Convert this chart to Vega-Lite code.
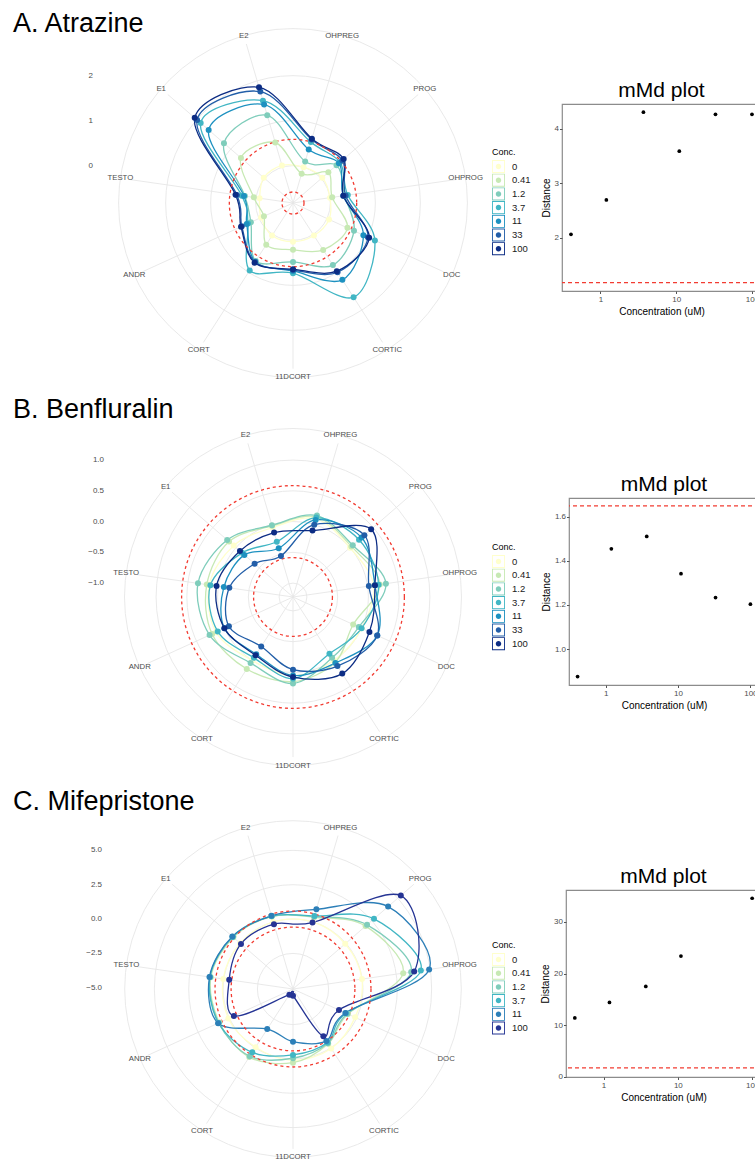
{
"$schema": "https://vega.github.io/schema/vega-lite/v6.json",
"background": "white",
"padding": {"left": 13, "top": 9, "right": 0, "bottom": 0},
"config": {"font": "Liberation Sans", "view": {"stroke": null}, "text": {"font": "Liberation Sans"}, "title": {"font": "Liberation Sans"}, "axis": {"labelFont": "Liberation Sans", "titleFont": "Liberation Sans"}, "legend": {"labelFont": "Liberation Sans", "titleFont": "Liberation Sans"}},
"datasets": {
"hormones": [{"hormone":"OHPREG"},{"hormone":"PROG"},{"hormone":"OHPROG"},{"hormone":"DOC"},{"hormone":"CORTIC"},{"hormone":"11DCORT"},{"hormone":"CORT"},{"hormone":"ANDR"},{"hormone":"TESTO"},{"hormone":"E1"},{"hormone":"E2"}],
"redCircles": [{"value": -0.585}, {"value": 0.585}],
"gridA": [{"value": 0}, {"value": 1}, {"value": 2}, {"value": 3.046}],
"gridB": [{"value": -1}, {"value": -0.5}, {"value": 0}, {"value": 0.5}, {"value": 1}, {"value": 1.514}],
"gridC": [{"value": -2.5}, {"value": 0}, {"value": 2.5}, {"value": 5}, {"value": 7.159}],
"rlabA": [{"value": 0}, {"value": 1}, {"value": 2}],
"rlabB": [{"value": -1}, {"value": -0.5}, {"value": 0}, {"value": 0.5}, {"value": 1}],
"rlabC": [{"value": -5}, {"value": -2.5}, {"value": 0}, {"value": 2.5}, {"value": 5}],
"radA": [
{"conc":"0","hormone":"OHPREG","value":0.0},{"conc":"0","hormone":"PROG","value":0.03},{"conc":"0","hormone":"OHPROG","value":0.0},{"conc":"0","hormone":"DOC","value":0.05},{"conc":"0","hormone":"CORTIC","value":0.03},{"conc":"0","hormone":"11DCORT","value":0.03},{"conc":"0","hormone":"CORT","value":0.03},{"conc":"0","hormone":"ANDR","value":-0.05},{"conc":"0","hormone":"TESTO","value":-0.08},{"conc":"0","hormone":"E1","value":0.03},{"conc":"0","hormone":"E2","value":0.04},
{"conc":"0.41","hormone":"OHPREG","value":-0.15},{"conc":"0.41","hormone":"PROG","value":0.21},{"conc":"0.41","hormone":"OHPROG","value":0.05},{"conc":"0.41","hormone":"DOC","value":0.5},{"conc":"0.41","hormone":"CORTIC","value":0.41},{"conc":"0.41","hormone":"11DCORT","value":0.21},{"conc":"0.41","hormone":"CORT","value":0.27},{"conc":"0.41","hormone":"ANDR","value":-0.12},{"conc":"0.41","hormone":"TESTO","value":0.05},{"conc":"0.41","hormone":"E1","value":0.7},{"conc":"0.41","hormone":"E2","value":0.57},
{"conc":"1.2","hormone":"OHPREG","value":0.13},{"conc":"1.2","hormone":"PROG","value":0.45},{"conc":"1.2","hormone":"OHPROG","value":0.33},{"conc":"1.2","hormone":"DOC","value":0.66},{"conc":"1.2","hormone":"CORTIC","value":0.81},{"conc":"1.2","hormone":"11DCORT","value":0.48},{"conc":"1.2","hormone":"CORT","value":0.7},{"conc":"1.2","hormone":"ANDR","value":0.2},{"conc":"1.2","hormone":"TESTO","value":0.25},{"conc":"1.2","hormone":"E1","value":1.2},{"conc":"1.2","hormone":"E2","value":1.2},
{"conc":"3.7","hormone":"OHPREG","value":0.58},{"conc":"3.7","hormone":"PROG","value":0.55},{"conc":"3.7","hormone":"OHPROG","value":0.4},{"conc":"3.7","hormone":"DOC","value":1.17},{"conc":"3.7","hormone":"CORTIC","value":1.66},{"conc":"3.7","hormone":"11DCORT","value":0.73},{"conc":"3.7","hormone":"CORT","value":0.95},{"conc":"3.7","hormone":"ANDR","value":0.27},{"conc":"3.7","hormone":"TESTO","value":0.32},{"conc":"3.7","hormone":"E1","value":1.885},{"conc":"3.7","hormone":"E2","value":1.54},
{"conc":"11","hormone":"OHPREG","value":0.41},{"conc":"11","hormone":"PROG","value":0.52},{"conc":"11","hormone":"OHPROG","value":0.3},{"conc":"11","hormone":"DOC","value":0.89},{"conc":"11","hormone":"CORTIC","value":1.2},{"conc":"11","hormone":"11DCORT","value":0.68},{"conc":"11","hormone":"CORT","value":0.72},{"conc":"11","hormone":"ANDR","value":0.3},{"conc":"11","hormone":"TESTO","value":0.27},{"conc":"11","hormone":"E1","value":1.65},{"conc":"11","hormone":"E2","value":1.45},
{"conc":"33","hormone":"OHPREG","value":0.64},{"conc":"33","hormone":"PROG","value":0.62},{"conc":"33","hormone":"OHPROG","value":0.35},{"conc":"33","hormone":"DOC","value":1.0},{"conc":"33","hormone":"CORTIC","value":1.0},{"conc":"33","hormone":"11DCORT","value":0.66},{"conc":"33","hormone":"CORT","value":0.73},{"conc":"33","hormone":"ANDR","value":0.42},{"conc":"33","hormone":"TESTO","value":0.43},{"conc":"33","hormone":"E1","value":1.99},{"conc":"33","hormone":"E2","value":1.75},
{"conc":"100","hormone":"OHPREG","value":0.66},{"conc":"100","hormone":"PROG","value":0.66},{"conc":"100","hormone":"OHPROG","value":0.3},{"conc":"100","hormone":"DOC","value":1.03},{"conc":"100","hormone":"CORTIC","value":0.97},{"conc":"100","hormone":"11DCORT","value":0.64},{"conc":"100","hormone":"CORT","value":0.75},{"conc":"100","hormone":"ANDR","value":0.44},{"conc":"100","hormone":"TESTO","value":0.46},{"conc":"100","hormone":"E1","value":2.06},{"conc":"100","hormone":"E2","value":1.85}
],
"radB": [
{"conc":"0","hormone":"OHPREG","value":0.1},{"conc":"0","hormone":"PROG","value":0.0},{"conc":"0","hormone":"OHPROG","value":0.1},{"conc":"0","hormone":"DOC","value":0.0},{"conc":"0","hormone":"CORTIC","value":0.0},{"conc":"0","hormone":"11DCORT","value":0.05},{"conc":"0","hormone":"CORT","value":0.0},{"conc":"0","hormone":"ANDR","value":0.15},{"conc":"0","hormone":"TESTO","value":0.15},{"conc":"0","hormone":"E1","value":0.05},{"conc":"0","hormone":"E2","value":-0.05},
{"conc":"0.41","hormone":"OHPREG","value":0.13},{"conc":"0.41","hormone":"PROG","value":0.03},{"conc":"0.41","hormone":"OHPROG","value":0.2},{"conc":"0.41","hormone":"DOC","value":-0.15},{"conc":"0.41","hormone":"CORTIC","value":0.04},{"conc":"0.41","hormone":"11DCORT","value":0.15},{"conc":"0.41","hormone":"CORT","value":0.165},{"conc":"0.41","hormone":"ANDR","value":0.22},{"conc":"0.41","hormone":"TESTO","value":0.19},{"conc":"0.41","hormone":"E1","value":0.15},{"conc":"0.41","hormone":"E2","value":-0.02},
{"conc":"1.2","hormone":"OHPREG","value":0.155},{"conc":"1.2","hormone":"PROG","value":0.06},{"conc":"1.2","hormone":"OHPROG","value":0.3},{"conc":"1.2","hormone":"DOC","value":-0.05},{"conc":"1.2","hormone":"CORTIC","value":-0.05},{"conc":"1.2","hormone":"11DCORT","value":0.18},{"conc":"1.2","hormone":"CORT","value":0.05},{"conc":"1.2","hormone":"ANDR","value":0.265},{"conc":"1.2","hormone":"TESTO","value":0.335},{"conc":"1.2","hormone":"E1","value":0.19},{"conc":"1.2","hormone":"E2","value":-0.01},
{"conc":"3.7","hormone":"OHPREG","value":0.12},{"conc":"3.7","hormone":"PROG","value":0.195},{"conc":"3.7","hormone":"OHPROG","value":0.18},{"conc":"3.7","hormone":"DOC","value":0.0},{"conc":"3.7","hormone":"CORTIC","value":-0.13},{"conc":"3.7","hormone":"11DCORT","value":0.1},{"conc":"3.7","hormone":"CORT","value":-0.05},{"conc":"3.7","hormone":"ANDR","value":0.12},{"conc":"3.7","hormone":"TESTO","value":0.13},{"conc":"3.7","hormone":"E1","value":-0.13},{"conc":"3.7","hormone":"E2","value":-0.29},
{"conc":"11","hormone":"OHPREG","value":0.08},{"conc":"11","hormone":"PROG","value":0.25},{"conc":"11","hormone":"OHPROG","value":0.12},{"conc":"11","hormone":"DOC","value":0.28},{"conc":"11","hormone":"CORTIC","value":0.05},{"conc":"11","hormone":"11DCORT","value":0.05},{"conc":"11","hormone":"CORT","value":-0.12},{"conc":"11","hormone":"ANDR","value":0.0},{"conc":"11","hormone":"TESTO","value":-0.09},{"conc":"11","hormone":"E1","value":-0.18},{"conc":"11","hormone":"E2","value":-0.4},
{"conc":"33","hormone":"OHPREG","value":0.0},{"conc":"33","hormone":"PROG","value":0.31},{"conc":"33","hormone":"OHPROG","value":0.02},{"conc":"33","hormone":"DOC","value":0.28},{"conc":"33","hormone":"CORTIC","value":0.11},{"conc":"33","hormone":"11DCORT","value":-0.045},{"conc":"33","hormone":"CORT","value":-0.27},{"conc":"33","hormone":"ANDR","value":-0.08},{"conc":"33","hormone":"TESTO","value":-0.18},{"conc":"33","hormone":"E1","value":-0.4},{"conc":"33","hormone":"E2","value":-0.53},
{"conc":"100","hormone":"OHPREG","value":-0.1},{"conc":"100","hormone":"PROG","value":0.455},{"conc":"100","hormone":"OHPROG","value":0.12},{"conc":"100","hormone":"DOC","value":0.14},{"conc":"100","hormone":"CORTIC","value":0.255},{"conc":"100","hormone":"11DCORT","value":0.075},{"conc":"100","hormone":"CORT","value":-0.1},{"conc":"100","hormone":"ANDR","value":0.0},{"conc":"100","hormone":"TESTO","value":0.03},{"conc":"100","hormone":"E1","value":-0.085},{"conc":"100","hormone":"E2","value":-0.135}
],
"radC": [
{"conc":"0","hormone":"OHPREG","value":0.0},{"conc":"0","hormone":"PROG","value":-0.06},{"conc":"0","hormone":"OHPROG","value":-0.02},{"conc":"0","hormone":"DOC","value":-0.12},{"conc":"0","hormone":"CORTIC","value":0.05},{"conc":"0","hormone":"11DCORT","value":0.1},{"conc":"0","hormone":"CORT","value":-0.05},{"conc":"0","hormone":"ANDR","value":0.08},{"conc":"0","hormone":"TESTO","value":0.04},{"conc":"0","hormone":"E1","value":0.0},{"conc":"0","hormone":"E2","value":0.0},
{"conc":"0.41","hormone":"OHPREG","value":0.35},{"conc":"0.41","hormone":"PROG","value":1.9},{"conc":"0.41","hormone":"OHPROG","value":3.01},{"conc":"0.41","hormone":"DOC","value":-0.7},{"conc":"0.41","hormone":"CORTIC","value":-0.35},{"conc":"0.41","hormone":"11DCORT","value":0.27},{"conc":"0.41","hormone":"CORT","value":0.8},{"conc":"0.41","hormone":"ANDR","value":0.8},{"conc":"0.41","hormone":"TESTO","value":0.95},{"conc":"0.41","hormone":"E1","value":0.65},{"conc":"0.41","hormone":"E2","value":0.4},
{"conc":"1.2","hormone":"OHPREG","value":0.4},{"conc":"1.2","hormone":"PROG","value":2.04},{"conc":"1.2","hormone":"OHPROG","value":3.6},{"conc":"1.2","hormone":"DOC","value":-0.75},{"conc":"1.2","hormone":"CORTIC","value":-0.4},{"conc":"1.2","hormone":"11DCORT","value":-0.05},{"conc":"1.2","hormone":"CORT","value":0.73},{"conc":"1.2","hormone":"ANDR","value":0.85},{"conc":"1.2","hormone":"TESTO","value":1.0},{"conc":"1.2","hormone":"E1","value":0.7},{"conc":"1.2","hormone":"E2","value":0.42},
{"conc":"3.7","hormone":"OHPREG","value":0.45},{"conc":"3.7","hormone":"PROG","value":2.71},{"conc":"3.7","hormone":"OHPROG","value":4.31},{"conc":"3.7","hormone":"DOC","value":-0.85},{"conc":"3.7","hormone":"CORTIC","value":-0.46},{"conc":"3.7","hormone":"11DCORT","value":-0.29},{"conc":"3.7","hormone":"CORT","value":0.39},{"conc":"3.7","hormone":"ANDR","value":0.87},{"conc":"3.7","hormone":"TESTO","value":1.02},{"conc":"3.7","hormone":"E1","value":0.73},{"conc":"3.7","hormone":"E2","value":0.44},
{"conc":"11","hormone":"OHPREG","value":0.95},{"conc":"11","hormone":"PROG","value":4.07},{"conc":"11","hormone":"OHPROG","value":4.92},{"conc":"11","hormone":"DOC","value":-0.9},{"conc":"11","hormone":"CORTIC","value":-0.6},{"conc":"11","hormone":"11DCORT","value":-1.26},{"conc":"11","hormone":"CORT","value":-1.62},{"conc":"11","hormone":"ANDR","value":0.9},{"conc":"11","hormone":"TESTO","value":1.05},{"conc":"11","hormone":"E1","value":0.75},{"conc":"11","hormone":"E2","value":0.46},
{"conc":"100","hormone":"OHPREG","value":-0.05},{"conc":"100","hormone":"PROG","value":5.29},{"conc":"100","hormone":"OHPROG","value":3.82},{"conc":"100","hormone":"DOC","value":-1.41},{"conc":"100","hormone":"CORTIC","value":-1.0},{"conc":"100","hormone":"11DCORT","value":-4.6},{"conc":"100","hormone":"CORT","value":-4.6},{"conc":"100","hormone":"ANDR","value":-0.36},{"conc":"100","hormone":"TESTO","value":-0.4},{"conc":"100","hormone":"E1","value":-0.08},{"conc":"100","hormone":"E2","value":-0.17}
],
"mmdA": [{"conc":0.41,"distance":2.06},{"conc":1.2,"distance":2.69},{"conc":3.7,"distance":4.3},{"conc":11,"distance":3.585},{"conc":33,"distance":4.26},{"conc":100,"distance":4.26}],
"mmdB": [{"conc":0.41,"distance":0.875},{"conc":1.2,"distance":1.454},{"conc":3.7,"distance":1.51},{"conc":11,"distance":1.341},{"conc":33,"distance":1.233},{"conc":100,"distance":1.203}],
"mmdC": [{"conc":0.41,"distance":11.4},{"conc":1.2,"distance":14.4},{"conc":3.7,"distance":17.5},{"conc":11,"distance":23.4},{"conc":100,"distance":34.6}],
"thrA": [{"threshold": 1.174}],
"thrB": [{"threshold": 1.648}],
"thrC": [{"threshold": 1.73}]
},
"spacing": 2,
"resolve": {"scale": {"color": "independent", "stroke": "independent", "x": "independent", "y": "independent", "size": "independent"}, "legend": {"color": "independent"}},
"vconcat": [
{
"spacing": 9,
"resolve": {"scale": {"color": "independent", "stroke": "independent", "x": "independent", "y": "independent", "size": "independent"}, "legend": {"color": "independent"}},
"hconcat": [
{
"width": 390, "height": 289,
"view": {"stroke": null},
"title": {"text": "A. Atrazine", "anchor": "start", "frame": "group", "dx": -85, "offset": -32, "baseline": "alphabetic", "fontSize": 27, "fontWeight": "normal", "color": "#000000"},
"layer": [
{"data": {"name": "gridA"}, "transform": [{"calculate": "datum.value + 0.83", "as": "rr"}, {"calculate": "0", "as": "cx"}],
 "mark": {"type": "point", "shape": "circle", "filled": false, "color": "#e6e6e6", "strokeWidth": 0.9, "opacity": 1},
 "encoding": {"x": {"field": "cx", "type": "quantitative", "scale": {"domain": [-4.3333, 4.3333], "nice": false, "zero": false}, "axis": null},
  "y": {"field": "cx", "type": "quantitative", "scale": {"domain": [-4.2222, 2.2], "nice": false, "zero": false}, "axis": null},
  "size": {"field": "rr", "type": "quantitative", "scale": {"type": "pow", "exponent": 2, "domain": [0, 4.3333], "range": [0, 152100], "nice": false, "zero": true}, "legend": null}}},
{"data": {"name": "hormones"}, "transform": [{"calculate": "indexof(['OHPREG','PROG','OHPROG','DOC','CORTIC','11DCORT','CORT','ANDR','TESTO','E1','E2'], datum.hormone)", "as": "k"}, {"calculate": "(datum.k + 0.5) * 2 * PI / 11", "as": "ang"}, {"calculate": "3.876 * 0.95", "as": "rr"}, {"calculate": "datum.rr * sin(datum.ang)", "as": "px"}, {"calculate": "datum.rr * cos(datum.ang)", "as": "py"}, {"calculate": "0", "as": "cx"}],
 "mark": {"type": "rule", "color": "#e6e6e6", "strokeWidth": 0.9},
 "encoding": {"x": {"field": "cx", "type": "quantitative", "scale": {"domain": [-4.3333, 4.3333], "nice": false, "zero": false}, "axis": null},
  "y": {"field": "cx", "type": "quantitative", "scale": {"domain": [-4.2222, 2.2], "nice": false, "zero": false}, "axis": null},
  "x2": {"field": "px"}, "y2": {"field": "py"}}},
{"data": {"name": "hormones"}, "transform": [{"calculate": "indexof(['OHPREG','PROG','OHPROG','DOC','CORTIC','11DCORT','CORT','ANDR','TESTO','E1','E2'], datum.hormone)", "as": "k"}, {"calculate": "(datum.k + 0.5) * 2 * PI / 11", "as": "ang"}, {"calculate": "3.876", "as": "rr"}, {"calculate": "datum.rr * sin(datum.ang)", "as": "px"}, {"calculate": "datum.rr * cos(datum.ang)", "as": "py"}],
 "mark": {"type": "text", "fontSize": 7.8, "color": "#4d4d4d", "align": "center", "baseline": "middle"},
 "encoding": {"x": {"field": "px", "type": "quantitative", "scale": {"domain": [-4.3333, 4.3333], "nice": false, "zero": false}, "axis": null},
  "y": {"field": "py", "type": "quantitative", "scale": {"domain": [-4.2222, 2.2], "nice": false, "zero": false}, "axis": null},
  "text": {"field": "hormone", "type": "nominal"}}},
{"data": {"name": "rlabA"}, "transform": [{"calculate": "datum.value + 0.83", "as": "rr"}, {"calculate": "-4.3333", "as": "lx"}],
 "mark": {"type": "text", "fontSize": 8, "color": "#4d4d4d", "align": "right", "baseline": "middle", "dx": -5},
 "encoding": {"x": {"field": "lx", "type": "quantitative", "scale": {"domain": [-4.3333, 4.3333], "nice": false, "zero": false}, "axis": null},
  "y": {"field": "rr", "type": "quantitative", "scale": {"domain": [-4.2222, 2.2], "nice": false, "zero": false}, "axis": null},
  "text": {"field": "value", "type": "quantitative", "format": ".0f"}}},
{"data": {"name": "radA"}, "transform": [{"calculate": "indexof(['OHPREG','PROG','OHPROG','DOC','CORTIC','11DCORT','CORT','ANDR','TESTO','E1','E2'], datum.hormone)", "as": "k"}, {"calculate": "(datum.k + 0.5) * 2 * PI / 11", "as": "ang"}, {"calculate": "datum.value + 0.83", "as": "rr"}, {"calculate": "datum.rr * sin(datum.ang)", "as": "px"}, {"calculate": "datum.rr * cos(datum.ang)", "as": "py"}],
 "mark": {"type": "line", "interpolate": "cardinal-closed", "strokeWidth": 1.3},
 "encoding": {"x": {"field": "px", "type": "quantitative", "scale": {"domain": [-4.3333, 4.3333], "nice": false, "zero": false}, "axis": null},
  "y": {"field": "py", "type": "quantitative", "scale": {"domain": [-4.2222, 2.2], "nice": false, "zero": false}, "axis": null},
  "stroke": {"field": "conc", "type": "nominal", "sort": null, "scale": {"range": ["#ffffcc","#c7e9b4","#7fcdbb","#41b6c4","#1d91c0","#225ea8","#0c2c84"]}, "legend": null},
  "order": {"field": "k", "type": "quantitative"}}},
{"data": {"name": "redCircles"}, "transform": [{"calculate": "datum.value + 0.83", "as": "rr"}, {"calculate": "0", "as": "cx"}],
 "mark": {"type": "point", "shape": "circle", "filled": false, "color": "#f23c32", "strokeWidth": 1.3, "strokeDash": [3, 3], "opacity": 1},
 "encoding": {"x": {"field": "cx", "type": "quantitative", "scale": {"domain": [-4.3333, 4.3333], "nice": false, "zero": false}, "axis": null},
  "y": {"field": "cx", "type": "quantitative", "scale": {"domain": [-4.2222, 2.2], "nice": false, "zero": false}, "axis": null},
  "size": {"field": "rr", "type": "quantitative", "scale": {"type": "pow", "exponent": 2, "domain": [0, 4.3333], "range": [0, 152100], "nice": false, "zero": true}, "legend": null}}},
{"data": {"name": "radA"}, "transform": [{"calculate": "indexof(['OHPREG','PROG','OHPROG','DOC','CORTIC','11DCORT','CORT','ANDR','TESTO','E1','E2'], datum.hormone)", "as": "k"}, {"calculate": "(datum.k + 0.5) * 2 * PI / 11", "as": "ang"}, {"calculate": "datum.value + 0.83", "as": "rr"}, {"calculate": "datum.rr * sin(datum.ang)", "as": "px"}, {"calculate": "datum.rr * cos(datum.ang)", "as": "py"}],
 "mark": {"type": "point", "filled": true, "size": 36, "opacity": 1},
 "encoding": {"x": {"field": "px", "type": "quantitative", "scale": {"domain": [-4.3333, 4.3333], "nice": false, "zero": false}, "axis": null},
  "y": {"field": "py", "type": "quantitative", "scale": {"domain": [-4.2222, 2.2], "nice": false, "zero": false}, "axis": null},
  "color": {"field": "conc", "type": "nominal", "scale": {"domain": ["0","0.41","1.2","3.7","11","33","100"], "range": ["#ffffcc","#c7e9b4","#7fcdbb","#41b6c4","#1d91c0","#225ea8","#0c2c84"]},
   "legend": {"title": "Conc.", "orient": "none", "legendX": 394, "legendY": 44, "padding": 0, "symbolType": "M-1,-1H1V1H-1Z M-0.86,-0.86V0.86H0.86V-0.86Z M0,-0.42A0.42,0.42 0 1,1 0,0.42A0.42,0.42 0 1,1 0,-0.42Z", "symbolSize": 169, "symbolStrokeWidth": 0, "labelFontSize": 9.5, "labelColor": "#1a1a1a", "titleFontSize": 9, "titleFontWeight": "normal", "titleColor": "#000000", "labelOffset": 7, "rowPadding": 0.7, "titlePadding": 3}}}}
]
},
{
"width": 199, "height": 187,
"view": {"stroke": "#8c8c8c", "strokeWidth": 1.2},
"title": {"text": "mMd plot", "fontSize": 21, "fontWeight": "normal", "color": "#000000", "offset": 3, "anchor": "middle", "frame": "group"},
"layer": [
{"data": {"name": "mmdA"}, "mark": {"type": "point", "filled": true, "size": 14, "color": "#000000", "opacity": 1},
 "encoding": {"x": {"field": "conc", "type": "quantitative", "scale": {"type": "log", "domain": [0.312, 131.5], "nice": false}, "axis": {"values": [1, 10, 100], "format": "d", "title": "Concentration (uM)", "grid": false, "domain": false, "tickSize": 2.5, "tickColor": "#555555", "labelFontSize": 8, "labelColor": "#4d4d4d", "labelPadding": 1.5, "titleFontSize": 10, "titleFontWeight": "normal", "titleColor": "#000000", "titlePadding": 3}},
  "y": {"field": "distance", "type": "quantitative", "scale": {"domain": [1.02, 4.45], "nice": false, "zero": false}, "axis": {"values": [2, 3, 4], "format": "d", "title": "Distance", "grid": false, "domain": false, "tickSize": 2.5, "tickColor": "#555555", "labelFontSize": 8, "labelColor": "#4d4d4d", "labelPadding": 1, "titleFontSize": 10, "titleFontWeight": "normal", "titleColor": "#000000", "titlePadding": 3}}}},
{"data": {"name": "thrA"}, "mark": {"type": "rule", "color": "#f23c32", "strokeDash": [4, 3], "strokeWidth": 1.2},
 "encoding": {"y": {"field": "threshold", "type": "quantitative"}}}
]
}
]
},
{
"spacing": 9,
"resolve": {"scale": {"color": "independent", "stroke": "independent", "x": "independent", "y": "independent", "size": "independent"}, "legend": {"color": "independent"}},
"hconcat": [
{
"width": 390, "height": 287,
"view": {"stroke": null},
"title": {"text": "B. Benfluralin", "anchor": "start", "frame": "group", "dx": -85, "offset": -18, "baseline": "alphabetic", "fontSize": 27, "fontWeight": "normal", "color": "#000000"},
"layer": [
{"data": {"name": "gridB"}, "transform": [{"calculate": "datum.value + 1.226", "as": "rr"}, {"calculate": "0", "as": "cx"}],
 "mark": {"type": "point", "shape": "circle", "filled": false, "color": "#e6e6e6", "strokeWidth": 0.9, "opacity": 1},
 "encoding": {"x": {"field": "cx", "type": "quantitative", "scale": {"domain": [-3.1707, 3.1707], "nice": false, "zero": false}, "axis": null},
  "y": {"field": "cx", "type": "quantitative", "scale": {"domain": [-3.0569, 1.6098], "nice": false, "zero": false}, "axis": null},
  "size": {"field": "rr", "type": "quantitative", "scale": {"type": "pow", "exponent": 2, "domain": [0, 3.1707], "range": [0, 152100], "nice": false, "zero": true}, "legend": null}}},
{"data": {"name": "hormones"}, "transform": [{"calculate": "indexof(['OHPREG','PROG','OHPROG','DOC','CORTIC','11DCORT','CORT','ANDR','TESTO','E1','E2'], datum.hormone)", "as": "k"}, {"calculate": "(datum.k + 0.5) * 2 * PI / 11", "as": "ang"}, {"calculate": "2.74 * 0.95", "as": "rr"}, {"calculate": "datum.rr * sin(datum.ang)", "as": "px"}, {"calculate": "datum.rr * cos(datum.ang)", "as": "py"}, {"calculate": "0", "as": "cx"}],
 "mark": {"type": "rule", "color": "#e6e6e6", "strokeWidth": 0.9},
 "encoding": {"x": {"field": "cx", "type": "quantitative", "scale": {"domain": [-3.1707, 3.1707], "nice": false, "zero": false}, "axis": null},
  "y": {"field": "cx", "type": "quantitative", "scale": {"domain": [-3.0569, 1.6098], "nice": false, "zero": false}, "axis": null},
  "x2": {"field": "px"}, "y2": {"field": "py"}}},
{"data": {"name": "hormones"}, "transform": [{"calculate": "indexof(['OHPREG','PROG','OHPROG','DOC','CORTIC','11DCORT','CORT','ANDR','TESTO','E1','E2'], datum.hormone)", "as": "k"}, {"calculate": "(datum.k + 0.5) * 2 * PI / 11", "as": "ang"}, {"calculate": "2.74", "as": "rr"}, {"calculate": "datum.rr * sin(datum.ang)", "as": "px"}, {"calculate": "datum.rr * cos(datum.ang)", "as": "py"}],
 "mark": {"type": "text", "fontSize": 7.8, "color": "#4d4d4d", "align": "center", "baseline": "middle"},
 "encoding": {"x": {"field": "px", "type": "quantitative", "scale": {"domain": [-3.1707, 3.1707], "nice": false, "zero": false}, "axis": null},
  "y": {"field": "py", "type": "quantitative", "scale": {"domain": [-3.0569, 1.6098], "nice": false, "zero": false}, "axis": null},
  "text": {"field": "hormone", "type": "nominal"}}},
{"data": {"name": "rlabB"}, "transform": [{"calculate": "datum.value + 1.226", "as": "rr"}, {"calculate": "-3.1707", "as": "lx"}],
 "mark": {"type": "text", "fontSize": 8, "color": "#4d4d4d", "align": "right", "baseline": "middle", "dx": 6},
 "encoding": {"x": {"field": "lx", "type": "quantitative", "scale": {"domain": [-3.1707, 3.1707], "nice": false, "zero": false}, "axis": null},
  "y": {"field": "rr", "type": "quantitative", "scale": {"domain": [-3.0569, 1.6098], "nice": false, "zero": false}, "axis": null},
  "text": {"field": "value", "type": "quantitative", "format": ".1f"}}},
{"data": {"name": "radB"}, "transform": [{"calculate": "indexof(['OHPREG','PROG','OHPROG','DOC','CORTIC','11DCORT','CORT','ANDR','TESTO','E1','E2'], datum.hormone)", "as": "k"}, {"calculate": "(datum.k + 0.5) * 2 * PI / 11", "as": "ang"}, {"calculate": "datum.value + 1.226", "as": "rr"}, {"calculate": "datum.rr * sin(datum.ang)", "as": "px"}, {"calculate": "datum.rr * cos(datum.ang)", "as": "py"}],
 "mark": {"type": "line", "interpolate": "cardinal-closed", "strokeWidth": 1.3},
 "encoding": {"x": {"field": "px", "type": "quantitative", "scale": {"domain": [-3.1707, 3.1707], "nice": false, "zero": false}, "axis": null},
  "y": {"field": "py", "type": "quantitative", "scale": {"domain": [-3.0569, 1.6098], "nice": false, "zero": false}, "axis": null},
  "stroke": {"field": "conc", "type": "nominal", "sort": null, "scale": {"range": ["#ffffcc","#c7e9b4","#7fcdbb","#41b6c4","#1d91c0","#225ea8","#0c2c84"]}, "legend": null},
  "order": {"field": "k", "type": "quantitative"}}},
{"data": {"name": "redCircles"}, "transform": [{"calculate": "datum.value + 1.226", "as": "rr"}, {"calculate": "0", "as": "cx"}],
 "mark": {"type": "point", "shape": "circle", "filled": false, "color": "#f23c32", "strokeWidth": 1.3, "strokeDash": [3, 3], "opacity": 1},
 "encoding": {"x": {"field": "cx", "type": "quantitative", "scale": {"domain": [-3.1707, 3.1707], "nice": false, "zero": false}, "axis": null},
  "y": {"field": "cx", "type": "quantitative", "scale": {"domain": [-3.0569, 1.6098], "nice": false, "zero": false}, "axis": null},
  "size": {"field": "rr", "type": "quantitative", "scale": {"type": "pow", "exponent": 2, "domain": [0, 3.1707], "range": [0, 152100], "nice": false, "zero": true}, "legend": null}}},
{"data": {"name": "radB"}, "transform": [{"calculate": "indexof(['OHPREG','PROG','OHPROG','DOC','CORTIC','11DCORT','CORT','ANDR','TESTO','E1','E2'], datum.hormone)", "as": "k"}, {"calculate": "(datum.k + 0.5) * 2 * PI / 11", "as": "ang"}, {"calculate": "datum.value + 1.226", "as": "rr"}, {"calculate": "datum.rr * sin(datum.ang)", "as": "px"}, {"calculate": "datum.rr * cos(datum.ang)", "as": "py"}],
 "mark": {"type": "point", "filled": true, "size": 36, "opacity": 1},
 "encoding": {"x": {"field": "px", "type": "quantitative", "scale": {"domain": [-3.1707, 3.1707], "nice": false, "zero": false}, "axis": null},
  "y": {"field": "py", "type": "quantitative", "scale": {"domain": [-3.0569, 1.6098], "nice": false, "zero": false}, "axis": null},
  "color": {"field": "conc", "type": "nominal", "scale": {"domain": ["0","0.41","1.2","3.7","11","33","100"], "range": ["#ffffcc","#c7e9b4","#7fcdbb","#41b6c4","#1d91c0","#225ea8","#0c2c84"]},
   "legend": {"title": "Conc.", "orient": "none", "legendX": 394, "legendY": 45, "padding": 0, "symbolType": "M-1,-1H1V1H-1Z M-0.86,-0.86V0.86H0.86V-0.86Z M0,-0.42A0.42,0.42 0 1,1 0,0.42A0.42,0.42 0 1,1 0,-0.42Z", "symbolSize": 169, "symbolStrokeWidth": 0, "labelFontSize": 9.5, "labelColor": "#1a1a1a", "titleFontSize": 9, "titleFontWeight": "normal", "titleColor": "#000000", "labelOffset": 7, "rowPadding": 0.7, "titlePadding": 3}}}}
]
},
{
"width": 190, "height": 187,
"view": {"stroke": "#8c8c8c", "strokeWidth": 1.2},
"title": {"text": "mMd plot", "fontSize": 21, "fontWeight": "normal", "color": "#000000", "offset": 3, "anchor": "middle", "frame": "group"},
"layer": [
{"data": {"name": "mmdB"}, "mark": {"type": "point", "filled": true, "size": 14, "color": "#000000", "opacity": 1},
 "encoding": {"x": {"field": "conc", "type": "quantitative", "scale": {"type": "log", "domain": [0.312, 131.5], "nice": false}, "axis": {"values": [1, 10, 100], "format": "d", "title": "Concentration (uM)", "grid": false, "domain": false, "tickSize": 2.5, "tickColor": "#555555", "labelFontSize": 8, "labelColor": "#4d4d4d", "labelPadding": 1.5, "titleFontSize": 10, "titleFontWeight": "normal", "titleColor": "#000000", "titlePadding": 3}},
  "y": {"field": "distance", "type": "quantitative", "scale": {"domain": [0.837, 1.684], "nice": false, "zero": false}, "axis": {"values": [1.0, 1.2, 1.4, 1.6], "format": ".1f", "title": "Distance", "grid": false, "domain": false, "tickSize": 2.5, "tickColor": "#555555", "labelFontSize": 8, "labelColor": "#4d4d4d", "labelPadding": 1, "titleFontSize": 10, "titleFontWeight": "normal", "titleColor": "#000000", "titlePadding": 3}}}},
{"data": {"name": "thrB"}, "mark": {"type": "rule", "color": "#f23c32", "strokeDash": [4, 3], "strokeWidth": 1.2},
 "encoding": {"y": {"field": "threshold", "type": "quantitative"}}}
]
}
]
},
{
"spacing": 9,
"resolve": {"scale": {"color": "independent", "stroke": "independent", "x": "independent", "y": "independent", "size": "independent"}, "legend": {"color": "independent"}},
"hconcat": [
{
"width": 390, "height": 297,
"view": {"stroke": null},
"title": {"text": "C. Mifepristone", "anchor": "start", "frame": "group", "dx": -85, "offset": -18, "baseline": "alphabetic", "fontSize": 27, "fontWeight": "normal", "color": "#000000"},
"layer": [
{"data": {"name": "gridC"}, "transform": [{"calculate": "datum.value + 5.09", "as": "rr"}, {"calculate": "0", "as": "cx"}],
 "mark": {"type": "point", "shape": "circle", "filled": false, "color": "#e6e6e6", "strokeWidth": 0.9, "opacity": 1},
 "encoding": {"x": {"field": "cx", "type": "quantitative", "scale": {"domain": [-14.192, 14.192], "nice": false, "zero": false}, "axis": null},
  "y": {"field": "cx", "type": "quantitative", "scale": {"domain": [-14.41, 7.205], "nice": false, "zero": false}, "axis": null},
  "size": {"field": "rr", "type": "quantitative", "scale": {"type": "pow", "exponent": 2, "domain": [0, 14.192], "range": [0, 152100], "nice": false, "zero": true}, "legend": null}}},
{"data": {"name": "hormones"}, "transform": [{"calculate": "indexof(['OHPREG','PROG','OHPROG','DOC','CORTIC','11DCORT','CORT','ANDR','TESTO','E1','E2'], datum.hormone)", "as": "k"}, {"calculate": "(datum.k + 0.5) * 2 * PI / 11", "as": "ang"}, {"calculate": "12.249 * 0.95", "as": "rr"}, {"calculate": "datum.rr * sin(datum.ang)", "as": "px"}, {"calculate": "datum.rr * cos(datum.ang)", "as": "py"}, {"calculate": "0", "as": "cx"}],
 "mark": {"type": "rule", "color": "#e6e6e6", "strokeWidth": 0.9},
 "encoding": {"x": {"field": "cx", "type": "quantitative", "scale": {"domain": [-14.192, 14.192], "nice": false, "zero": false}, "axis": null},
  "y": {"field": "cx", "type": "quantitative", "scale": {"domain": [-14.41, 7.205], "nice": false, "zero": false}, "axis": null},
  "x2": {"field": "px"}, "y2": {"field": "py"}}},
{"data": {"name": "hormones"}, "transform": [{"calculate": "indexof(['OHPREG','PROG','OHPROG','DOC','CORTIC','11DCORT','CORT','ANDR','TESTO','E1','E2'], datum.hormone)", "as": "k"}, {"calculate": "(datum.k + 0.5) * 2 * PI / 11", "as": "ang"}, {"calculate": "12.249", "as": "rr"}, {"calculate": "datum.rr * sin(datum.ang)", "as": "px"}, {"calculate": "datum.rr * cos(datum.ang)", "as": "py"}],
 "mark": {"type": "text", "fontSize": 7.8, "color": "#4d4d4d", "align": "center", "baseline": "middle"},
 "encoding": {"x": {"field": "px", "type": "quantitative", "scale": {"domain": [-14.192, 14.192], "nice": false, "zero": false}, "axis": null},
  "y": {"field": "py", "type": "quantitative", "scale": {"domain": [-14.41, 7.205], "nice": false, "zero": false}, "axis": null},
  "text": {"field": "hormone", "type": "nominal"}}},
{"data": {"name": "rlabC"}, "transform": [{"calculate": "datum.value + 5.09", "as": "rr"}, {"calculate": "-14.192", "as": "lx"}],
 "mark": {"type": "text", "fontSize": 8, "color": "#4d4d4d", "align": "right", "baseline": "middle", "dx": 4},
 "encoding": {"x": {"field": "lx", "type": "quantitative", "scale": {"domain": [-14.192, 14.192], "nice": false, "zero": false}, "axis": null},
  "y": {"field": "rr", "type": "quantitative", "scale": {"domain": [-14.41, 7.205], "nice": false, "zero": false}, "axis": null},
  "text": {"field": "value", "type": "quantitative", "format": ".1f"}}},
{"data": {"name": "radC"}, "transform": [{"calculate": "indexof(['OHPREG','PROG','OHPROG','DOC','CORTIC','11DCORT','CORT','ANDR','TESTO','E1','E2'], datum.hormone)", "as": "k"}, {"calculate": "(datum.k + 0.5) * 2 * PI / 11", "as": "ang"}, {"calculate": "datum.value + 5.09", "as": "rr"}, {"calculate": "datum.rr * sin(datum.ang)", "as": "px"}, {"calculate": "datum.rr * cos(datum.ang)", "as": "py"}],
 "mark": {"type": "line", "interpolate": "cardinal-closed", "strokeWidth": 1.3},
 "encoding": {"x": {"field": "px", "type": "quantitative", "scale": {"domain": [-14.192, 14.192], "nice": false, "zero": false}, "axis": null},
  "y": {"field": "py", "type": "quantitative", "scale": {"domain": [-14.41, 7.205], "nice": false, "zero": false}, "axis": null},
  "stroke": {"field": "conc", "type": "nominal", "sort": null, "scale": {"range": ["#ffffcc","#c7e9b4","#7fcdbb","#41b6c4","#2c7fb8","#253494"]}, "legend": null},
  "order": {"field": "k", "type": "quantitative"}}},
{"data": {"name": "redCircles"}, "transform": [{"calculate": "datum.value + 5.09", "as": "rr"}, {"calculate": "0", "as": "cx"}],
 "mark": {"type": "point", "shape": "circle", "filled": false, "color": "#f23c32", "strokeWidth": 1.3, "strokeDash": [3, 3], "opacity": 1},
 "encoding": {"x": {"field": "cx", "type": "quantitative", "scale": {"domain": [-14.192, 14.192], "nice": false, "zero": false}, "axis": null},
  "y": {"field": "cx", "type": "quantitative", "scale": {"domain": [-14.41, 7.205], "nice": false, "zero": false}, "axis": null},
  "size": {"field": "rr", "type": "quantitative", "scale": {"type": "pow", "exponent": 2, "domain": [0, 14.192], "range": [0, 152100], "nice": false, "zero": true}, "legend": null}}},
{"data": {"name": "radC"}, "transform": [{"calculate": "indexof(['OHPREG','PROG','OHPROG','DOC','CORTIC','11DCORT','CORT','ANDR','TESTO','E1','E2'], datum.hormone)", "as": "k"}, {"calculate": "(datum.k + 0.5) * 2 * PI / 11", "as": "ang"}, {"calculate": "datum.value + 5.09", "as": "rr"}, {"calculate": "datum.rr * sin(datum.ang)", "as": "px"}, {"calculate": "datum.rr * cos(datum.ang)", "as": "py"}],
 "mark": {"type": "point", "filled": true, "size": 36, "opacity": 1},
 "encoding": {"x": {"field": "px", "type": "quantitative", "scale": {"domain": [-14.192, 14.192], "nice": false, "zero": false}, "axis": null},
  "y": {"field": "py", "type": "quantitative", "scale": {"domain": [-14.41, 7.205], "nice": false, "zero": false}, "axis": null},
  "color": {"field": "conc", "type": "nominal", "scale": {"domain": ["0","0.41","1.2","3.7","11","100"], "range": ["#ffffcc","#c7e9b4","#7fcdbb","#41b6c4","#2c7fb8","#253494"]},
   "legend": {"title": "Conc.", "orient": "none", "legendX": 394, "legendY": 51, "padding": 0, "symbolType": "M-1,-1H1V1H-1Z M-0.86,-0.86V0.86H0.86V-0.86Z M0,-0.42A0.42,0.42 0 1,1 0,0.42A0.42,0.42 0 1,1 0,-0.42Z", "symbolSize": 169, "symbolStrokeWidth": 0, "labelFontSize": 9.5, "labelColor": "#1a1a1a", "titleFontSize": 9, "titleFontWeight": "normal", "titleColor": "#000000", "labelOffset": 7, "rowPadding": 0.7, "titlePadding": 3}}}}
]
},
{
"width": 195, "height": 187,
"view": {"stroke": "#8c8c8c", "strokeWidth": 1.2},
"title": {"text": "mMd plot", "fontSize": 21, "fontWeight": "normal", "color": "#000000", "offset": 3, "anchor": "middle", "frame": "group"},
"layer": [
{"data": {"name": "mmdC"}, "mark": {"type": "point", "filled": true, "size": 14, "color": "#000000", "opacity": 1},
 "encoding": {"x": {"field": "conc", "type": "quantitative", "scale": {"type": "log", "domain": [0.312, 131.5], "nice": false}, "axis": {"values": [1, 10, 100], "format": "d", "title": "Concentration (uM)", "grid": false, "domain": false, "tickSize": 2.5, "tickColor": "#555555", "labelFontSize": 8, "labelColor": "#4d4d4d", "labelPadding": 1.5, "titleFontSize": 10, "titleFontWeight": "normal", "titleColor": "#000000", "titlePadding": 3}},
  "y": {"field": "distance", "type": "quantitative", "scale": {"domain": [-0.05, 36.2], "nice": false, "zero": false}, "axis": {"values": [0, 10, 20, 30], "format": "d", "title": "Distance", "grid": false, "domain": false, "tickSize": 2.5, "tickColor": "#555555", "labelFontSize": 8, "labelColor": "#4d4d4d", "labelPadding": 1, "titleFontSize": 10, "titleFontWeight": "normal", "titleColor": "#000000", "titlePadding": 3}}}},
{"data": {"name": "thrC"}, "mark": {"type": "rule", "color": "#f23c32", "strokeDash": [4, 3], "strokeWidth": 1.2},
 "encoding": {"y": {"field": "threshold", "type": "quantitative"}}}
]
}
]
}
]
}
